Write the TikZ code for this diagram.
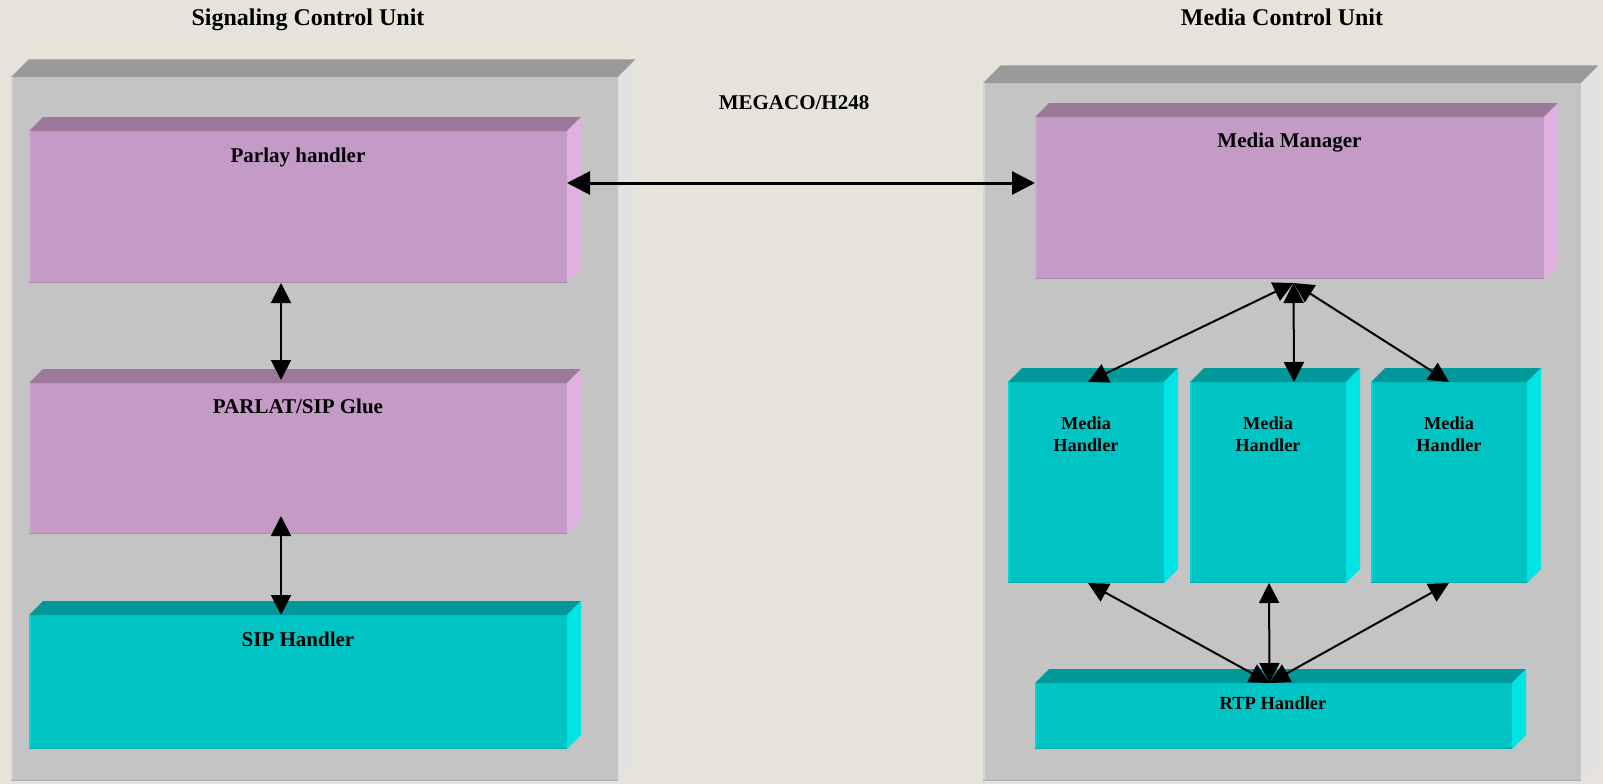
\documentclass[tikz,border=0pt]{standalone}
\usepackage{fontspec}
\setmainfont{Liberation Serif}
\usetikzlibrary{arrows.meta,calc}
\definecolor{bgc}{HTML}{E6E3DB}
\definecolor{gfront}{HTML}{C4C4C4}
\definecolor{gtop}{HTML}{999999}
\definecolor{gside}{HTML}{E2E2E2}
\definecolor{pfront}{HTML}{C49AC6}
\definecolor{ptop}{HTML}{9B7A99}
\definecolor{pside}{HTML}{E0B0E0}
\definecolor{tfront}{HTML}{00C4C4}
\definecolor{ttop}{HTML}{009898}
\definecolor{tside}{HTML}{00E4E4}
% #1 name, #2 x1, #3 y1, #4 x2, #5 y2, #6 depth, #7 front, #8 top, #9 side
\newcommand\tdbox[9]{%
  \node[facebox, fill=#7, minimum width={#4-#2}, minimum height={#5-#3}] (#1) at (#2,#3) {};
  \fill[#8] (#1.north west) -- ++(#6,-#6) -- ([shift={(#6,-#6)}]#1.north east) -- (#1.north east) -- cycle;
  \fill[#9] (#1.north east) -- ++(#6,-#6) -- ([shift={(#6,-#6)}]#1.south east) -- (#1.south east) -- cycle;
  \draw[draw=#9!55!#7, line width=1.5pt] ([xshift=0.75pt]#1.south west) -- ([xshift=0.75pt]#1.north west);
  \draw[draw=#8!55!#7, line width=1.5pt] ([yshift=0.75pt]#1.south west) -- ([yshift=0.75pt]#1.south east);
}
\tikzset{
  facebox/.style={draw=none, inner sep=0pt, outer sep=0pt, anchor=north west},
  title/.style={font=\fontsize{24}{28}\selectfont\bfseries, inner sep=0pt, anchor=base},
  lbl/.style={font=\fontsize{21}{25}\selectfont\bfseries, inner sep=0pt, anchor=base},
  mhlbl/.style={font=\fontsize{18.3}{22}\selectfont\bfseries, inner sep=0pt, align=center, anchor=center},
  rtplbl/.style={font=\fontsize{18.5}{22}\selectfont\bfseries, inner sep=0pt, anchor=base},
  conn/.style={line width=2pt, {Triangle[length=20pt,width=20pt]}-{Triangle[length=20pt,width=20pt]}},
  bigconn/.style={line width=3pt, {Triangle[length=23pt,width=23pt]}-{Triangle[length=23pt,width=23pt]}},
}
\begin{document}
\begin{tikzpicture}[x=1pt,y=-1pt]
\useasboundingbox (0,0) rectangle (1603,784);
\fill[bgc] (0,0) rectangle (1603,784);
% outer units
\tdbox{scu}{11}{77}{618}{781}{17.5}{gfront}{gtop}{gside}
\tdbox{mcu}{983}{83}{1581}{781}{17.5}{gfront}{gtop}{gside}
% left inner boxes
\tdbox{parlay}{29}{131}{567}{283}{14}{pfront}{ptop}{pside}
\tdbox{glue}{29}{383}{567}{534}{14}{pfront}{ptop}{pside}
\tdbox{sip}{29}{615}{567}{749}{14}{tfront}{ttop}{tside}
% right inner boxes
\tdbox{mm}{1035}{117}{1544}{279}{14}{pfront}{ptop}{pside}
\tdbox{mhA}{1008}{382}{1164}{583}{14}{tfront}{ttop}{tside}
\tdbox{mhB}{1190}{382}{1346}{583}{14}{tfront}{ttop}{tside}
\tdbox{mhC}{1371}{382}{1527}{583}{14}{tfront}{ttop}{tside}
\tdbox{rtp}{1035}{683}{1512}{749}{14}{tfront}{ttop}{tside}
% titles
\node[title] (t1) at (308,26) {Signaling Control Unit};
\node[title] (t2) at (1282,26) {Media Control Unit};
\node[lbl] (megaco) at (794,109) {MEGACO/H248};
% labels
\node[lbl] (parlayT) at (298,162) {Parlay handler};
\node[lbl] (glueT) at (298,413) {PARLAT/SIP Glue};
\node[lbl] (sipT) at (298,646) {SIP Handler};
\node[lbl] (mmT) at (1289.5,147) {Media Manager};
\node[mhlbl] (mhAT) at (1086,434) {Media\\Handler};
\node[mhlbl] (mhBT) at (1268,434) {Media\\Handler};
\node[mhlbl] (mhCT) at (1449,434) {Media\\Handler};
\node[rtplbl] (rtpT) at (1273,709) {RTP Handler};
% connectors
\draw[conn] ([xshift=-17pt]parlay.south) -- ([xshift=-17pt,yshift=3pt]glue.north);
\draw[conn] ([xshift=-17pt,yshift=18pt]glue.south) -- ([xshift=-17pt]sip.north);
\draw[bigconn] ([yshift=24pt]parlay.east) -- ([yshift=15pt]mm.west);
\coordinate (mmhub) at ([xshift=4pt,yshift=-4pt]mm.south);
\draw[conn] (mmhub) -- ([xshift=2pt]mhA.north);
\draw[conn] (mmhub) -- ([xshift=26pt]mhB.north);
\draw[conn] (mmhub) -- (mhC.north);
\coordinate (rtphub) at ([xshift=-4pt]rtp.north);
\draw[conn] ([xshift=2pt]mhA.south) -- (rtphub);
\draw[conn] ([xshift=1pt]mhB.south) -- (rtphub);
\draw[conn] (mhC.south) -- (rtphub);
\end{tikzpicture}
\end{document}
